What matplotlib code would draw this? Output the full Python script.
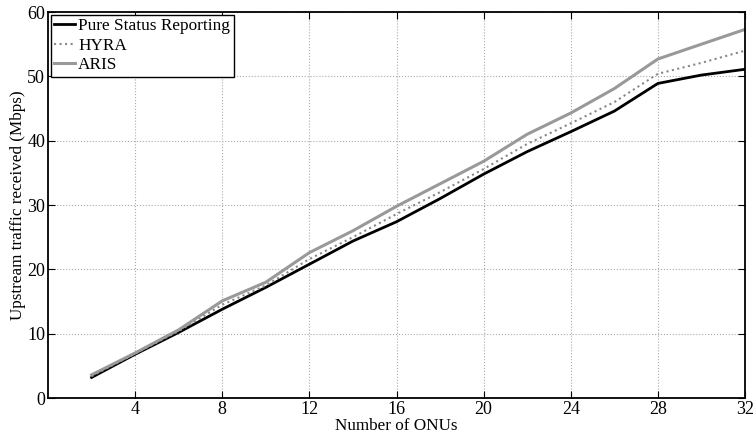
import matplotlib
matplotlib.use('Agg')
import matplotlib.pyplot as plt

# Values
onus = [2, 4, 6, 8, 10, 12, 14, 16, 18, 20, 22, 24, 26, 28, 30, 32]
pure = [3.2, 6.8, 10.2, 13.8, 17.2, 20.8, 24.4, 27.4, 31.0, 34.8, 38.3, 41.4, 44.6, 48.9, 50.2, 51.1]
hyra = [3.4, 6.9, 10.4, 14.5, 17.5, 21.6, 25.0, 28.6, 32.0, 35.6, 39.5, 42.7, 46.0, 50.4, 52.1, 54.0]
aris = [3.6, 7.0, 10.6, 15.1, 18.0, 22.6, 26.0, 29.8, 33.3, 36.8, 41.0, 44.3, 48.1, 52.7, 55.0, 57.3]

plt.rcParams['font.family'] = ['Liberation Serif', 'DejaVu Serif']

fig = plt.figure(figsize=(7.55, 4.37), dpi=100)
ax = fig.add_axes([0.0636, 0.0892, 0.9232, 0.8833])

ax.plot(onus, pure, color='black', linewidth=2.0, label='Pure Status Reporting')
ax.plot(onus, hyra, color='#888888', linewidth=1.5, linestyle=':', label='HYRA')
ax.plot(onus, aris, color='#999999', linewidth=2.2, label='ARIS')

ax.set_xlim(0, 32)
ax.set_ylim(0, 60)
ax.set_xticks([4, 8, 12, 16, 20, 24, 28, 32])
ax.set_yticks([0, 10, 20, 30, 40, 50, 60])
ax.tick_params(direction='in', top=True, right=True, labelsize=13, length=5, pad=2)
ax.grid(True, linestyle=':', color='#aaaaaa', linewidth=0.8)
for s in ax.spines.values():
    s.set_linewidth(1.3)

ax.set_xlabel('Number of ONUs', fontsize=12.3, labelpad=0.5)
ax.set_ylabel('Upstream traffic received (Mbps)', fontsize=12.3, labelpad=1)

leg = ax.legend(loc='upper left', fontsize=12.4, handlelength=1.2, handletextpad=0.2,
                borderpad=0.2, labelspacing=0.2, borderaxespad=0.15, fancybox=False, framealpha=1)
leg.get_frame().set_edgecolor('black')
leg.get_frame().set_linewidth(1.0)

fig.savefig('out.png', dpi=100)
